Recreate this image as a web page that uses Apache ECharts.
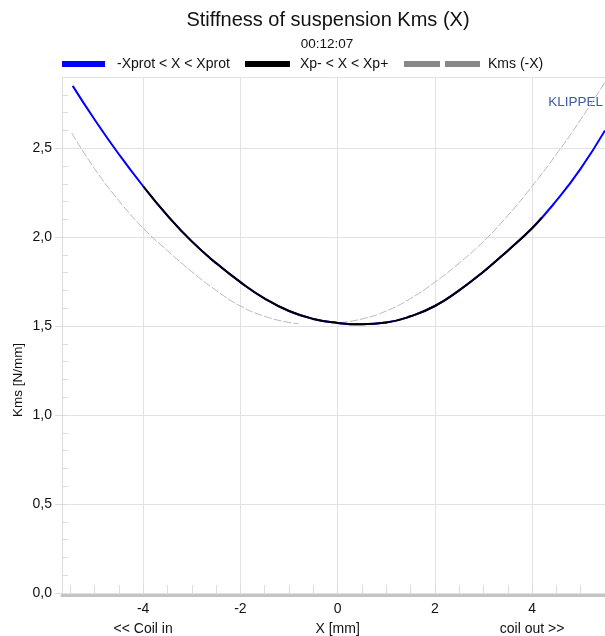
<!DOCTYPE html>
<html><head><meta charset="utf-8">
<script src="https://cdn.jsdelivr.net/npm/echarts@6/dist/echarts.min.js"></script>
<style>html,body{margin:0;padding:0;background:#fff}#c{width:605px;height:636px}</style>
</head><body><div id="c"></div>
<script>
// Kms(X) for -Xprot < X < Xprot (blue)
const blueX = [-5.45,-5,-4.5,-4,-3.5,-3,-2.5,-2,-1.5,-1,-0.5,0,0.5,1,1.5,2,2.5,3,3.5,4,4.5,5,5.5];
const blueY = [2.85,2.661,2.466,2.286,2.121,1.976,1.854,1.747,1.655,1.585,1.540,1.518,1.510,1.520,1.555,1.613,1.701,1.806,1.924,2.05,2.205,2.385,2.60];
// Kms(X) for Xp- < X < Xp+ (black)
const blackX = [-4,-3.5,-3,-2.5,-2,-1.5,-1,-0.5,0,0.5,1,1.5,2,2.5,3,3.5,4,4.2];
const blackY = [2.286,2.121,1.976,1.854,1.747,1.655,1.585,1.540,1.518,1.510,1.520,1.555,1.613,1.701,1.806,1.924,2.05,2.11];
// Kms(-X) (gray dashed), two pieces
const grayLeftX = [-5.47,-5,-4.5,-4,-3.5,-3,-2.5,-2,-1.5,-1,-0.8];
const grayLeftY = [2.585,2.385,2.205,2.05,1.924,1.806,1.701,1.613,1.555,1.520,1.514];
const grayRightX = [0.05,0.5,1,1.5,2,2.5,3,3.5,4,4.5,5,5.5];
const grayRightY = [1.520,1.540,1.585,1.655,1.747,1.854,1.976,2.121,2.286,2.466,2.661,2.871];
// axis labels and ticks
const xTickLabels = [-4,-2,0,2,4];
const xSubLabels = ['<< Coil in','','X [mm]','','coil out >>'];
const xMinorTicks = [-5.5,-5,-4.5,-4,-3.5,-3,-2.5,-2,-1.5,-1,-0.5,0,0.5,1,1.5,2,2.5,3,3.5,4,4.5,5,5.5];
const yMinorTicks = [0.1,0.2,0.3,0.4,0.5,0.6,0.7,0.8,0.9,1.0,1.1,1.2,1.3,1.4,1.5,1.6,1.7,1.8,1.9,2.0,2.1,2.2,2.3,2.4,2.5,2.6,2.7,2.8];

const FONT = 'Liberation Sans, Arial, sans-serif';
const pairs = (xs, ys) => xs.map((x, i) => [x, ys[i]]);
const chart = echarts.init(document.getElementById('c'), null, {renderer: 'canvas'});
const gridPos = {left: 62, right: 0, top: 77, bottom: 43, outerBoundsMode: 'none', containLabel: false};
const legendText = {fontSize: 14, color: '#111', fontFamily: FONT, padding: [0,0,0,7]};

chart.setOption({
  animation: false,
  backgroundColor: '#fff',
  textStyle: {fontFamily: FONT},
  grid: [Object.assign({}, gridPos), Object.assign({}, gridPos)],
  legend: [
    {left: 62, top: 57, padding: 0, itemWidth: 43, itemHeight: 6, selectedMode: false,
     data: [{name: '-Xprot < X < Xprot', icon: 'rect', itemStyle: {color: '#0000ff', borderWidth: 0}}], textStyle: legendText},
    {left: 245, top: 57, padding: 0, itemWidth: 45, itemHeight: 6, selectedMode: false,
     data: [{name: 'Xp- < X < Xp+', icon: 'rect', itemStyle: {color: '#000', borderWidth: 0}}], textStyle: Object.assign({}, legendText, {padding: [0,0,0,5]})},
    {left: 404, top: 57, padding: 0, itemWidth: 76, itemHeight: 6, selectedMode: false,
     data: [{name: 'Kms (-X)', icon: 'path://M0,0H36V6H0Z M41,0H76V6H41Z', itemStyle: {color: '#888', borderWidth: 0}}], textStyle: Object.assign({}, legendText, {padding: [0,0,0,3]})}
  ],
  graphic: [
    {type: 'text', x: 328, y: 20, style: {text: 'Stiffness of suspension Kms (X)', fontSize: 20, fontFamily: FONT, fill: '#111', align: 'center', verticalAlign: 'middle'}},
    {type: 'text', x: 327, y: 44, style: {text: '00:12:07', fontSize: 13.5, fontFamily: FONT, fill: '#111', align: 'center', verticalAlign: 'middle'}},
    {type: 'text', x: 603, y: 102, style: {text: 'KLIPPEL', fontSize: 13.5, fontFamily: FONT, fill: '#3f5b9c', align: 'right', verticalAlign: 'middle'}},
    {type: 'text', x: 18, y: 380, rotation: Math.PI / 2, style: {text: 'Kms [N/mm]', fontSize: 13.5, fontFamily: FONT, fill: '#111', align: 'center', verticalAlign: 'middle'}}
  ],
  xAxis: [
    {type: 'value', gridIndex: 0, min: -5.67, max: 5.5, splitNumber: 5, offset: 2,
     axisLine: {show: true, onZero: false, lineStyle: {color: '#c4c4c4', width: 3}},
     axisTick: {show: false},
     axisLabel: {customValues: xTickLabels, margin: 4, fontSize: 14, color: '#111', lineHeight: 20,
       formatter: function (v) { const i = xTickLabels.indexOf(v); const sub = i >= 0 ? xSubLabels[i] : ''; return sub ? v + '\n' + sub : String(v); }},
     splitLine: {show: true, lineStyle: {color: '#e2e2e2', width: 1}}},
    {type: 'value', gridIndex: 1, min: -5.67, max: 5.5,
     axisLine: {show: false, onZero: false}, axisLabel: {show: false}, splitLine: {show: false},
     axisTick: {show: true, inside: true, length: 8, customValues: xMinorTicks, lineStyle: {color: '#dcdcdc'}}}
  ],
  yAxis: [
    {type: 'value', gridIndex: 0, min: 0, max: 2.9, interval: 0.5,
     axisLine: {show: true, onZero: false, lineStyle: {color: '#dcdcdc', width: 1}},
     axisTick: {show: true, inside: false, length: 7, lineStyle: {color: '#dcdcdc'}},
     axisLabel: {margin: 10, fontSize: 14, color: '#111', showMaxLabel: false,
       formatter: function (v) { return v.toFixed(1).replace('.', ','); }},
     splitLine: {show: true, lineStyle: {color: '#e2e2e2', width: 1}}},
    {type: 'value', gridIndex: 1, min: 0, max: 2.9, position: 'left',
     axisLine: {show: false, onZero: false}, axisLabel: {show: false}, splitLine: {show: false},
     axisTick: {show: true, inside: true, length: 6, customValues: yMinorTicks, lineStyle: {color: '#dcdcdc'}}}
  ],
  series: [
    {name: 'Kms (-X)', type: 'line', xAxisIndex: 0, yAxisIndex: 0, data: pairs(grayLeftX, grayLeftY), smooth: 0.5, showSymbol: false, color: '#888',
     lineStyle: {color: '#b8b8b8', width: 1, type: [8, 2]}, z: 2},
    {name: 'Kms (-X)', type: 'line', xAxisIndex: 0, yAxisIndex: 0, data: pairs(grayRightX, grayRightY), smooth: 0.5, showSymbol: false, color: '#888',
     lineStyle: {color: '#b8b8b8', width: 1, type: [8, 2]}, z: 2},
    {name: '-Xprot < X < Xprot', type: 'line', xAxisIndex: 0, yAxisIndex: 0, data: pairs(blueX, blueY), smooth: 0.5, showSymbol: false, color: '#0000ff',
     lineStyle: {color: '#0000ff', width: 2}, z: 3},
    {name: 'Xp- < X < Xp+', type: 'line', xAxisIndex: 0, yAxisIndex: 0, data: pairs(blackX, blackY), smooth: 0.5, showSymbol: false, color: '#000',
     lineStyle: {color: '#000', width: 2}, z: 4}
  ]
});
</script></body></html>
